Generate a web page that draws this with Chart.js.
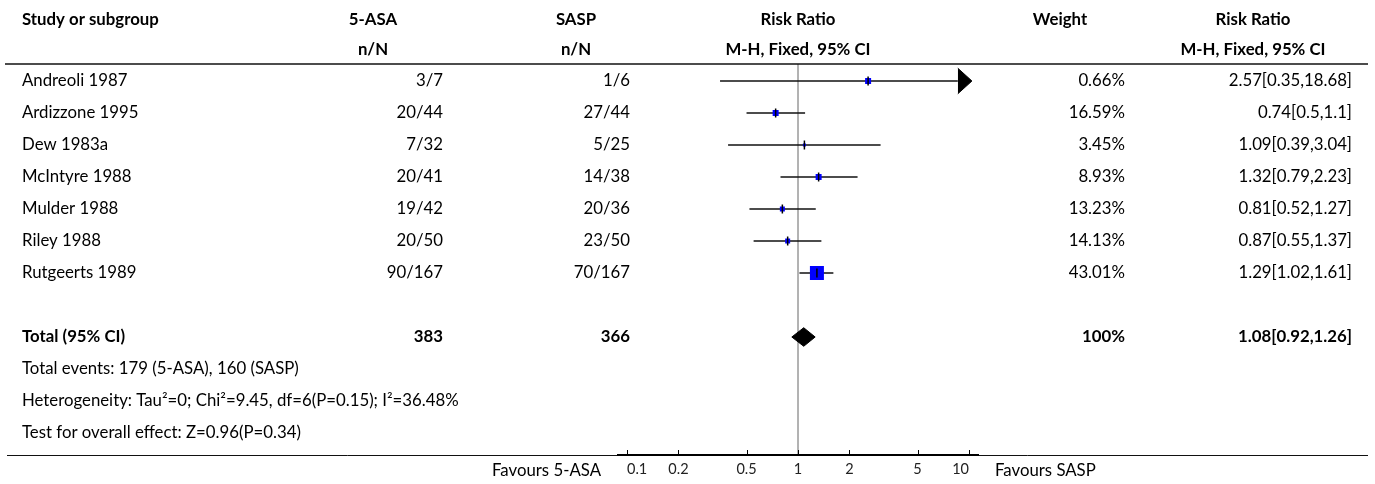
<!DOCTYPE html>
<html>
<head>
<meta charset="utf-8">
<script src="https://cdn.jsdelivr.net/npm/chart.js@4.4.1/dist/chart.umd.min.js"></script>
<style>
  html, body { margin: 0; padding: 0; background: #fff; }
  canvas { display: block; }
</style>
</head>
<body>
<canvas id="forest" width="1375" height="484"></canvas>
<script>
// study data
const studies = ['Andreoli 1987', 'Ardizzone 1995', 'Dew 1983a', 'McIntyre 1988', 'Mulder 1988', 'Riley 1988', 'Rutgeerts 1989'];
const asaEvents = ['3/7', '20/44', '7/32', '20/41', '19/42', '20/50', '90/167'];
const saspEvents = ['1/6', '27/44', '5/25', '14/38', '20/36', '23/50', '70/167'];
const weights = [0.66, 16.59, 3.45, 8.93, 13.23, 14.13, 43.01];
const rr = [2.57, 0.74, 1.09, 1.32, 0.81, 0.87, 1.29];
const rrLow = [0.35, 0.5, 0.39, 0.79, 0.52, 0.55, 1.02];
const rrHigh = [18.68, 1.1, 3.04, 2.23, 1.27, 1.37, 1.61];

// pooled result
const totalN = [383, 366];
const totalRR = 1.08;
const totalLow = 0.92;
const totalHigh = 1.26;
const totalWeight = '100%';

const notes = [
  'Total events: 179 (5-ASA), 160 (SASP)',
  'Heterogeneity: Tau\u00b2=0; Chi\u00b2=9.45, df=6(P=0.15); I\u00b2=36.48%',
  'Test for overall effect: Z=0.96(P=0.34)'
];
const xTicks = [0.1, 0.2, 0.5, 1, 2, 5, 10];

// drawing constants (not data)
const boxPx = [6, 6, 3, 6, 5, 5, 14];
const axisMin = 0.0874, axisMax = 11.44;
const arrowBase = 8.6, arrowTip = 10.4;
const totalRow = studies.length + 1;

const family = 'Lato';
const mctx = document.createElement('canvas').getContext('2d');
mctx.font = '100px ' + family;
const fontPx = +(100 * 438 / mctx.measureText(notes[1]).width).toFixed(1);

Chart.defaults.font.family = family;
Chart.defaults.color = '#222';

const fmt = v => String(v);
const ciText = i => rr[i] + '[' + rrLow[i] + ',' + rrHigh[i] + ']';

const datasets = [];

// point estimate tick marks
datasets.push({
  data: rr.map((v, i) => ({ x: v, y: i })),
  showLine: false,
  pointStyle: 'line',
  rotation: 90,
  pointRadius: 4.5,
  borderColor: '#000',
  pointBorderWidth: 1.5,
  order: 0
});

// weight boxes
datasets.push({
  data: rr.map((v, i) => ({ x: v, y: i })),
  showLine: false,
  pointStyle: 'rect',
  pointRadius: boxPx.map(s => s / Math.SQRT2),
  backgroundColor: '#0000ff',
  borderColor: '#0000ff',
  pointBorderWidth: 0,
  order: 1
});

// confidence intervals
rr.forEach((v, i) => {
  const hi = rrHigh[i] > 10 ? arrowBase : rrHigh[i];
  datasets.push({
    data: [{ x: rrLow[i], y: i }, { x: hi, y: i }],
    borderColor: '#111',
    borderWidth: 1.3,
    pointRadius: 0,
    fill: false,
    order: 2
  });
  if (rrHigh[i] > 10) {
    datasets.push({
      data: [{ x: arrowBase, y: i - 0.4 }, { x: arrowTip, y: i }],
      borderColor: '#000', borderWidth: 1, backgroundColor: '#000',
      pointRadius: 0, fill: '+1', order: 3
    });
    datasets.push({
      data: [{ x: arrowBase, y: i + 0.4 }, { x: arrowTip, y: i }],
      borderColor: '#000', borderWidth: 1, pointRadius: 0, fill: false, order: 3
    });
  }
});

// pooled diamond
datasets.push({
  data: [{ x: totalLow, y: totalRow }, { x: totalRR, y: totalRow - 0.29 }, { x: totalHigh, y: totalRow }],
  borderColor: '#000', borderWidth: 1, backgroundColor: '#000',
  pointRadius: 0, fill: '+1', order: 4
});
datasets.push({
  data: [{ x: totalLow, y: totalRow }, { x: totalRR, y: totalRow + 0.29 }, { x: totalHigh, y: totalRow }],
  borderColor: '#000', borderWidth: 1, pointRadius: 0, fill: false, order: 4
});

const tablePlugin = {
  id: 'table',
  beforeDatasetsDraw(chart) {
    const { ctx, chartArea, scales: { x } } = chart;
    const x1 = x.getPixelForValue(1);
    ctx.save();
    ctx.strokeStyle = '#999';
    ctx.lineWidth = 1.5;
    ctx.beginPath();
    ctx.moveTo(x1, chartArea.top);
    ctx.lineTo(x1, chartArea.bottom);
    ctx.stroke();
    ctx.restore();
  },
  afterDraw(chart) {
    const { ctx, chartArea, scales: { x, y } } = chart;
    ctx.save();

    // rules
    ctx.strokeStyle = '#111';
    ctx.lineWidth = 1.5;
    ctx.beginPath();
    ctx.moveTo(5, chartArea.top);
    ctx.lineTo(1368, chartArea.top);
    ctx.stroke();
    ctx.lineWidth = 1;
    ctx.beginPath();
    ctx.moveTo(7, chartArea.bottom + 0.5);
    ctx.lineTo(1368, chartArea.bottom + 0.5);
    ctx.stroke();
    ctx.lineWidth = 2;
    ctx.strokeStyle = '#000';
    ctx.beginPath();
    ctx.moveTo(chartArea.left, chartArea.bottom);
    ctx.lineTo(chartArea.right, chartArea.bottom);
    ctx.stroke();
    ctx.lineWidth = 1;
    xTicks.forEach(t => {
      const px = Math.round(x.getPixelForValue(t)) + 0.5;
      ctx.beginPath();
      ctx.moveTo(px, chartArea.bottom - 5);
      ctx.lineTo(px, chartArea.bottom);
      ctx.stroke();
    });

    ctx.fillStyle = '#000';
    ctx.textBaseline = 'middle';
    const put = (txt, px, py, align, bold) => {
      ctx.font = (bold ? 'bold ' : '') + fontPx + 'px ' + family;
      ctx.textAlign = align;
      ctx.fillText(txt, px, py);
    };

    // headers
    const h1 = 20, h2 = 50;
    put('Study or subgroup', 22, h1, 'left', true);
    put('5-ASA', 373, h1, 'center', true);
    put('n/N', 373, h2, 'center', true);
    put('SASP', 576, h1, 'center', true);
    put('n/N', 576, h2, 'center', true);
    put('Risk Ratio', x.getPixelForValue(1), h1, 'center', true);
    put('M-H, Fixed, 95% CI', x.getPixelForValue(1), h2, 'center', true);
    put('Weight', 1060, h1, 'center', true);
    put('Risk Ratio', 1253, h1, 'center', true);
    put('M-H, Fixed, 95% CI', 1253, h2, 'center', true);

    // study rows
    studies.forEach((s, i) => {
      const py = y.getPixelForValue(i);
      put(s, 22, py, 'left', false);
      put(asaEvents[i], 443, py, 'right', false);
      put(saspEvents[i], 630, py, 'right', false);
      put(weights[i].toFixed(2) + '%', 1125, py, 'right', false);
      put(ciText(i), 1352, py, 'right', false);
    });

    // total row
    const ty = y.getPixelForValue(totalRow);
    put('Total (95% CI)', 22, ty, 'left', true);
    put(fmt(totalN[0]), 443, ty, 'right', true);
    put(fmt(totalN[1]), 630, ty, 'right', true);
    put(totalWeight, 1125, ty, 'right', true);
    put(totalRR + '[' + totalLow + ',' + totalHigh + ']', 1352, ty, 'right', true);

    notes.forEach((n, k) => put(n, 22, y.getPixelForValue(totalRow + 1 + k), 'left', false));

    // favours labels
    const fy = chartArea.bottom + 16;
    put('Favours 5-ASA', 601, fy, 'right', false);
    put('Favours SASP', 995, fy, 'left', false);
    ctx.restore();
  }
};

new Chart(document.getElementById('forest'), {
  type: 'line',
  data: { datasets },
  options: {
    responsive: false,
    devicePixelRatio: 1,
    animation: false,
    events: [],
    layout: { padding: { left: 617, right: 396, top: 64, bottom: 0 } },
    plugins: {
      legend: { display: false },
      tooltip: { enabled: false }
    },
    elements: { line: { tension: 0 } },
    scales: {
      x: {
        type: 'logarithmic',
        min: axisMin,
        max: axisMax,
        bounds: 'data',
        afterBuildTicks: s => { s.ticks = xTicks.map(v => ({ value: v })); },
        afterFit: s => { s.height = 29; },
        grid: { display: false, drawTicks: false },
        border: { display: false },
        ticks: {
          callback: v => String(v),
          autoSkip: false,
          maxRotation: 0,
          align: 'inner',
          padding: 6,
          color: '#222',
          font: () => ({ family: family, size: 14.5 })
        }
      },
      y: {
        type: 'linear',
        reverse: true,
        min: -0.53125,
        max: 11.6875,
        display: false
      }
    }
  },
  plugins: [tablePlugin]
});
</script>
</body>
</html>
